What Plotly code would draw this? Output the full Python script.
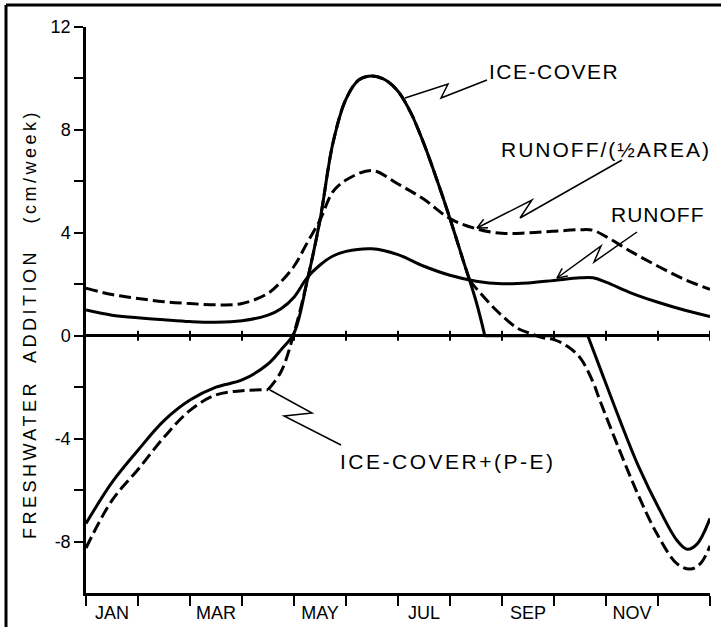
import math
import plotly.graph_objects as go

# ---- data -----------------------------------------------------------------
month_labels = ["JAN", "MAR", "MAY", "JUL", "SEP", "NOV"]
label_months = [0.5, 2.5, 4.5, 6.5, 8.5, 10.5]

# RUNOFF (cm/week), month 0 = 1 Jan, month 12 = 31 Dec
runoff_month = [0, 0.5, 1, 1.5, 2, 2.5, 3, 3.5, 3.75, 4, 4.25, 4.5, 4.75, 5, 5.5,
                6, 6.5, 7, 7.5, 8, 8.5, 9, 9.5, 9.75, 10, 10.5, 11, 11.5, 12]
runoff_value = [1.0, 0.8, 0.7, 0.62, 0.55, 0.52, 0.58, 0.8, 1.05, 1.5, 2.25, 2.75, 3.1,
                3.28, 3.38, 3.15, 2.7, 2.35, 2.12, 2.02, 2.05, 2.15, 2.25, 2.25, 2.08,
                1.65, 1.3, 1.0, 0.75]

# RUNOFF / (1/2 AREA)
half_area_month = runoff_month
half_area_value = [1.85, 1.6, 1.45, 1.32, 1.25, 1.2, 1.25, 1.65, 2.1, 2.7, 3.6, 4.5, 5.6,
                   6.05, 6.42, 5.9, 5.3, 4.55, 4.16, 3.98, 4.0, 4.06, 4.12, 4.1, 3.85,
                   3.25, 2.7, 2.2, 1.8]

# ICE-COVER (melt positive, freezing negative)
ice_month = [0, 0.5, 1, 1.5, 2, 2.5, 3, 3.5, 3.75, 4, 4.25, 4.5, 4.75, 5, 5.25, 5.5,
             5.75, 6, 6.25, 6.5, 6.75, 7, 7.25, 7.5, 7.67,
             9.65, 9.88, 10.27, 10.63, 11.04, 11.37, 11.56, 11.75, 12]
ice_value = [-7.3, -5.7, -4.45, -3.3, -2.5, -2.0, -1.72, -1.1, -0.55, 0.1, 2.1, 4.5,
             7.5, 9.2, 9.95, 10.1, 9.95, 9.5, 8.65, 7.45, 6.05, 4.55, 2.95, 1.35, 0,
             0, -1.23, -3.3, -5.1, -6.8, -7.97, -8.3, -8.1, -7.1]
ice_corners = [7.67, 9.65]

# ICE-COVER + (P-E)
ice_pe_month = [0, 0.5, 1, 1.5, 2, 2.5, 3, 3.5,
                3.75, 4, 4.25, 4.5, 4.75, 5, 5.25, 5.5, 5.75, 6, 6.25, 6.5, 6.75, 7,
                7.25, 7.38,
                7.5, 7.9, 8.29, 8.5, 8.79, 9.0, 9.25, 9.5, 9.75, 9.88, 10.25, 10.6,
                10.98, 11.37, 11.62, 11.81, 12]
ice_pe_value = [-8.25, -6.4, -5.2, -3.95, -2.9, -2.3, -2.14, -2.1,
                -1.4, 0.1, 2.1, 4.5, 7.5, 9.2, 9.95, 10.1, 9.95, 9.5, 8.65, 7.45,
                6.05, 4.55, 2.95, 2.14,
                1.85, 0.97, 0.3, 0.12, -0.08, -0.15, -0.4, -0.85, -1.8, -2.5, -4.4,
                -6.1, -7.7, -8.87, -9.07, -8.87, -8.17]
ice_pe_corners = [3.5, 7.38]

# ---- geometry ---------------------------------------------------------------
W, H = 721, 627
L, R, T, B = 86, 11, 27, 34
X0, X1 = 0, 12
Y0, Y1 = -10, 12
PW, PH = W - L - R, H - T - B

FONT = "Liberation Sans, Arial, Helvetica, sans-serif"


def to_data(px, py):
    return (X0 + (px - L) / PW * (X1 - X0), Y1 - (py - T) / PH * (Y1 - Y0))


def to_paper(px, py):
    return ((px - L) / PW, 1 - (py - T) / PH)


def split_at(ms, vs, corners):
    """Split a curve into pieces at sharp corners so each piece is smoothed alone."""
    pieces, cm, cv = [], [], []
    for m, v in zip(ms, vs):
        cm.append(m)
        cv.append(v)
        if m in corners:
            pieces.append((cm, cv))
            cm, cv = [m], [v]
    if len(cm) > 1:
        pieces.append((cm, cv))
    return pieces


fig = go.Figure()

SOLID = dict(color="black", width=3, shape="spline", smoothing=1.0)
DASHED = dict(color="black", width=3, shape="spline", smoothing=1.0, dash="12px,5px")

for xs, ys in split_at(ice_pe_month, ice_pe_value, ice_pe_corners):
    fig.add_trace(go.Scatter(x=xs, y=ys, mode="lines", line=DASHED, name="ICE-COVER+(P-E)"))
fig.add_trace(go.Scatter(x=half_area_month, y=half_area_value, mode="lines",
                         line=DASHED, name="RUNOFF/(1/2 AREA)"))
fig.add_trace(go.Scatter(x=runoff_month, y=runoff_value, mode="lines",
                         line=SOLID, name="RUNOFF"))
for xs, ys in split_at(ice_month, ice_value, ice_corners):
    fig.add_trace(go.Scatter(x=xs, y=ys, mode="lines", line=SOLID, name="ICE-COVER"))

shapes = []

# month ticks crossing the zero line
for m in range(1, 13):
    shapes.append(dict(type="line", xref="x", yref="y", ysizemode="pixel", yanchor=0,
                       x0=m, x1=m, y0=-5, y1=5, line=dict(color="black", width=2)))

# ---- leader lines with zig-zag breaks ------------------------------------------
leaders = [
    ([(405, 98), (448, 84), (441, 98), (487, 80)], False),
    ([(477, 228), (532, 200), (520, 218), (622, 160)], True),
    ([(557, 278), (601, 246), (594, 262), (637, 232)], True),
    ([(270, 390), (312, 413), (284, 416), (341, 445)], False),
]
for pts, arrow in leaders:
    d = []
    for i, (px, py) in enumerate(pts):
        x, y = to_data(px, py)
        d.append(("M" if i == 0 else "L") + f"{x:.4f},{y:.4f}")
    shapes.append(dict(type="path", path=" ".join(d), xref="x", yref="y",
                       line=dict(color="black", width=1.5)))
    if arrow:
        (sx, sy), (nx, ny) = pts[0], pts[1]
        ang = math.atan2(ny - sy, nx - sx)
        for da in (0.45, -0.45):
            ex = sx + 11 * math.cos(ang + da)
            ey = sy + 11 * math.sin(ang + da)
            a = to_data(sx, sy)
            b = to_data(ex, ey)
            shapes.append(dict(type="line", xref="x", yref="y",
                               x0=a[0], y0=a[1], x1=b[0], y1=b[1],
                               line=dict(color="black", width=1.5)))

# border along top and left
p_l0 = to_paper(6, 627)
p_l1 = to_paper(6, 5)
p_t1 = to_paper(721, 5)
shapes.append(dict(type="line", xref="paper", yref="paper",
                   x0=p_l0[0], y0=p_l0[1], x1=p_l1[0], y1=p_l1[1],
                   line=dict(color="black", width=3)))
shapes.append(dict(type="line", xref="paper", yref="paper",
                   x0=p_l1[0], y0=p_l1[1], x1=p_t1[0], y1=p_t1[1],
                   line=dict(color="black", width=3)))

# ---- labels -------------------------------------------------------------------
def label(text, px, py, size=21, angle=0, anchor="left"):
    x, y = to_paper(px, py)
    return dict(text=text, x=x, y=y, xref="paper", yref="paper", showarrow=False,
                xanchor=anchor, yanchor="middle", textangle=angle,
                font=dict(family=FONT, size=size, color="black"))


NB = "\u00a0"
y_title = f"FRESHWATER{NB * 2}ADDITION{NB * 3}(cm/week)"

annotations = [
    label("<span style='letter-spacing:1.5px'>ICE-COVER</span>", 487, 71),
    label("<span style='letter-spacing:2px'>RUNOFF/(½AREA)</span>", 499, 149),
    label("<span style='letter-spacing:1px'>RUNOFF</span>", 609, 215),
    label("<span style='letter-spacing:2.5px'>ICE-COVER+(P-E)</span>", 338, 461),
    label(f"<span style='letter-spacing:3.5px'>{y_title}</span>",
          30, 324, size=18, angle=-90, anchor="center"),
]

y_ticks = [-8, -6, -4, -2, 0, 2, 4, 6, 8, 10, 12]
y_text = [str(v) if v % 4 == 0 else "" for v in y_ticks]

fig.update_layout(
    width=W, height=H,
    margin=dict(l=L, r=R, t=T, b=B, pad=0),
    paper_bgcolor="white", plot_bgcolor="white",
    showlegend=False,
    shapes=shapes,
    annotations=annotations,
    font=dict(family=FONT, color="black"),
    xaxis=dict(
        range=[X0, X1], showgrid=False, zeroline=False, automargin=False,
        showline=True, linecolor="black", linewidth=2.5,
        tickmode="array", tickvals=label_months, ticktext=month_labels,
        ticks="", tickfont=dict(size=18, family=FONT, color="black"),
        ticklabelstandoff=2,
        minor=dict(tickmode="array", tickvals=list(range(13)), ticks="outside",
                   ticklen=10, tickwidth=2, tickcolor="black", showgrid=False),
        fixedrange=True,
    ),
    yaxis=dict(
        range=[Y0, Y1], showgrid=False, automargin=False,
        zeroline=True, zerolinecolor="black", zerolinewidth=2.5,
        showline=True, linecolor="black", linewidth=2.5,
        tickmode="array", tickvals=y_ticks, ticktext=y_text,
        ticks="outside", ticklen=9, tickwidth=2, tickcolor="black",
        tickfont=dict(size=18, family=FONT, color="black"),
        fixedrange=True,
    ),
)

fig.write_html("out.html")
